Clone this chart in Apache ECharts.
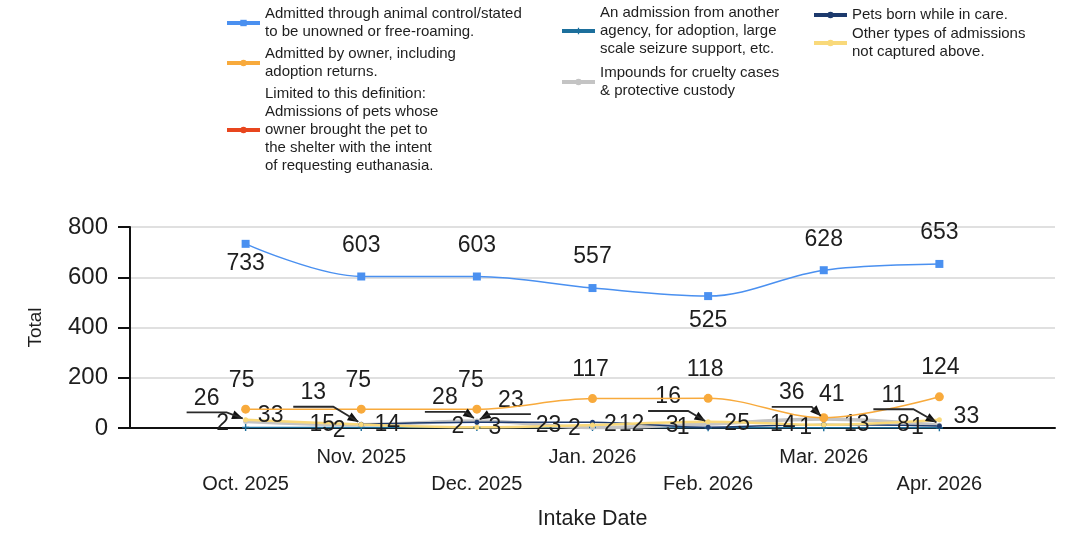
<!DOCTYPE html>
<html>
<head>
<meta charset="utf-8">
<title>Admissions by intake type</title>
<script src="https://cdn.jsdelivr.net/npm/echarts@6/dist/echarts.min.js"></script>
<style>
  html, body { margin: 0; padding: 0; background: #fff; }
  #chart { width: 1073px; height: 535px; }
</style>
</head>
<body>
<div id="chart"></div>
<script>
// ---- data ----
const months = ['Oct. 2025', 'Nov. 2025', 'Dec. 2025', 'Jan. 2026', 'Feb. 2026', 'Mar. 2026', 'Apr. 2026'];
const animalControl = [733, 603, 603, 557, 525, 628, 653];
const ownerSurrender = [75, 75, 75, 117, 118, 41, 124];
const euthanasiaRequests = [null, null, null, null, null, null, null];
const agencyTransfers = [2, 2, 2, 2, 1, 1, 1];
const crueltyImpounds = [26, 13, 28, 2, 16, 36, 11];
const bornInCare = [null, 15, 23, 23, 3, 14, 8];
const otherAdmissions = [33, 14, 3, 12, 25, 13, 33];
const yTicks = [0, 200, 400, 600, 800];

const seriesNames = [
  'Admitted through animal control/stated\nto be unowned or free-roaming.',
  'Admitted by owner, including\nadoption returns.',
  'Limited to this definition:\nAdmissions of pets whose\nowner brought the pet to\nthe shelter with the intent\nof requesting euthanasia.',
  'An admission from another\nagency, for adoption, large\nscale seizure support, etc.',
  'Impounds for cruelty cases\n& protective custody',
  'Pets born while in care.',
  'Other types of admissions\nnot captured above.'
];
const seriesColors = ['#4a90f0', '#f8aa3c', '#e8461e', '#1c6f9c', '#c4c4c4', '#1d3a6d', '#f9d97a'];

// label placement (offset of label centre from the point), per series
const labelOffsets = [
  [[0, 20], [0, -31], [0, -31], [0, -31], [0, 25], [0, -31], [0, -31]],
  [[-4, -29], [-3, -29], [-6, -29], [-2, -29], [-3, -29], [8, -23], [1, -29]],
  [[0, 0], [0, 0], [0, 0], [0, 0], [0, 0], [0, 0], [0, 0]],
  [[-23, -4], [-22, 3], [-19, -1], [-18, 1], [-25, 0], [-18, 0], [-22, 0]],
  [[-39, -23], [-48, -32], [-32, -23], [18, -3], [-40, -27], [-32, -26], [-46, -30]],
  [[0, 0], [-39, 0], [34, -22], [-44, 3], [-36, -2], [-41, 0], [-36, -1]],
  [[25, -4], [26, 0], [18, 0], [39, 0], [29, 2], [33, 0], [27, -3]]
];
// which labels get a guide line, and on which side of the point the label sits
const callouts = {
  4: ['L', 'L', 'L', null, 'L', 'L', 'L'],
  5: [null, null, 'R', null, null, null, null]
};
const calloutValues = { 4: crueltyImpounds, 5: bornInCare };

const font = "'Liberation Sans', Arial, sans-serif";
const textColor = '#1e1e1e';

// guide line: underline below the label, then down to the point
const guidePoints = (side, off) => {
  const lx = off[0], ty = off[1] + 14;
  return side === 'L'
    ? { tip: [-3, -3], elbow: [lx + 20, ty], end: [lx - 20, ty] }
    : { tip: [3, -3], elbow: [lx - 22, ty], end: [lx + 20, ty] };
};

// arrow heads at the point end of each guide line
const arrowMarks = (idx, values) => {
  const sides = callouts[idx] || [];
  const data = [];
  values.forEach((v, i) => {
    if (!sides[i] || v == null) return;
    const g = guidePoints(sides[i], labelOffsets[idx][i]);
    const dx = g.tip[0] - g.elbow[0], dy = g.tip[1] - g.elbow[1];
    const len = Math.hypot(dx, dy);
    const ux = dx / len, uy = dy / len;
    const theta = Math.atan2(uy, ux) * 180 / Math.PI;
    data.push({
      coord: [i, v],
      symbolOffset: [g.tip[0] - ux * 5, g.tip[1] - uy * 5],
      symbolRotate: -(theta + 90)
    });
  });
  return {
    symbol: 'triangle',
    symbolSize: [9, 11],
    silent: true,
    label: { show: false },
    itemStyle: { color: '#111' },
    data: data
  };
};

const chart = echarts.init(document.getElementById('chart'));

const makeSeries = (idx, values, extra) => Object.assign({
  name: seriesNames[idx],
  type: 'line',
  smooth: 0.35,
  color: seriesColors[idx],
  lineStyle: { width: 1.5, color: seriesColors[idx] },
  itemStyle: { color: seriesColors[idx] },
  symbol: 'circle',
  symbolSize: 5,
  data: values.map((v, i) => [i, v]),
  label: {
    show: true,
    position: 'inside',
    fontFamily: font,
    fontSize: 23,
    color: textColor,
    formatter: p => (p.value[1] == null ? '' : String(p.value[1]))
  },
  labelLayout: function (p) {
    const off = labelOffsets[p.seriesIndex][p.dataIndex];
    const cx = p.rect.x + p.rect.width / 2;
    const cy = p.rect.y + p.rect.height / 2;
    return { x: cx + off[0], y: cy + off[1], align: 'center', verticalAlign: 'middle' };
  }
}, extra || {});

const legendBase = {
  orient: 'vertical',
  padding: 0,
  itemWidth: 33,
  itemHeight: 8,
  lineStyle: { width: 4 },
  textStyle: { fontFamily: font, fontSize: 15, lineHeight: 18, color: textColor },
  selectedMode: false
};

const option = {
  backgroundColor: '#fff',
  animation: false,
  tooltip: { trigger: 'axis' },
  legend: [
    Object.assign({}, legendBase, { data: seriesNames.slice(0, 3), left: 225, top: 5, itemGap: 4 }),
    Object.assign({}, legendBase, { data: seriesNames.slice(3, 5), left: 560, top: 4, itemGap: 6 }),
    Object.assign({}, legendBase, { data: seriesNames.slice(5, 7), left: 812, top: 6, itemGap: 1 })
  ],
  grid: { left: 130, right: 18, top: 227, bottom: 107, outerBoundsMode: 'none', containLabel: false },
  xAxis: {
    type: 'value',
    min: -1,
    max: 7,
    interval: 1,
    name: 'Intake Date',
    nameLocation: 'middle',
    nameGap: 80,
    nameTextStyle: { fontFamily: font, fontSize: 21.5, color: textColor },
    axisLine: { show: true, lineStyle: { color: '#111', width: 2 } },
    axisTick: { show: false },
    splitLine: { show: false },
    axisLabel: {
      margin: 16,
      fontFamily: font,
      fontSize: 20,
      lineHeight: 27,
      color: textColor,
      showMinLabel: true,
      showMaxLabel: true,
      formatter: v => {
        if (v < 0 || v >= months.length) return '';
        return v % 2 === 0 ? '\n' + months[v] : months[v];
      }
    }
  },
  yAxis: {
    type: 'value',
    min: yTicks[0],
    max: yTicks[yTicks.length - 1],
    interval: yTicks[1] - yTicks[0],
    name: 'Total',
    nameLocation: 'middle',
    nameGap: 85,
    nameRotate: 90,
    nameTextStyle: { fontFamily: font, fontSize: 19, color: textColor },
    axisLine: { show: true, onZero: false, lineStyle: { color: '#111', width: 2 } },
    axisTick: { show: true, length: 12, lineStyle: { color: '#111', width: 2 } },
    axisLabel: { margin: 22, fontFamily: font, fontSize: 24, color: textColor },
    splitLine: { lineStyle: { color: '#e0e0e0', width: 2 } }
  },
  series: [
    makeSeries(0, animalControl, { symbol: 'rect', symbolSize: 8, z: 5 }),
    makeSeries(1, ownerSurrender, { symbolSize: 9, z: 4 }),
    makeSeries(2, euthanasiaRequests),
    makeSeries(3, agencyTransfers, {
      symbol: 'path://M4,0H6V4H10V6H6V10H4V6H0V4H4Z',
      symbolSize: 7,
      z: 3
    }),
    makeSeries(4, crueltyImpounds, {
      lineStyle: { width: 3.5, color: seriesColors[4] },
      markPoint: arrowMarks(4, crueltyImpounds)
    }),
    makeSeries(5, bornInCare, { markPoint: arrowMarks(5, bornInCare) }),
    makeSeries(6, otherAdmissions, { lineStyle: { width: 2.5, color: seriesColors[6] } })
  ]
};

chart.setOption(option);

// callout guide lines, placed through the chart's own coordinate conversion
const guides = [];
Object.keys(callouts).forEach(key => {
  const idx = Number(key);
  const values = calloutValues[idx];
  callouts[idx].forEach((side, i) => {
    if (!side || values[i] == null) return;
    const pt = chart.convertToPixel({ gridIndex: 0 }, [i, values[i]]);
    const g = guidePoints(side, labelOffsets[idx][i]);
    guides.push({
      type: 'polyline',
      silent: true,
      z: 10,
      shape: { points: [g.end, g.elbow, g.tip].map(q => [pt[0] + q[0], pt[1] + q[1]]) },
      style: { stroke: '#2a2a2a', lineWidth: 1.8, fill: null }
    });
  });
});
chart.setOption({ graphic: guides });

window.addEventListener('resize', () => chart.resize());
</script>
</body>
</html>
